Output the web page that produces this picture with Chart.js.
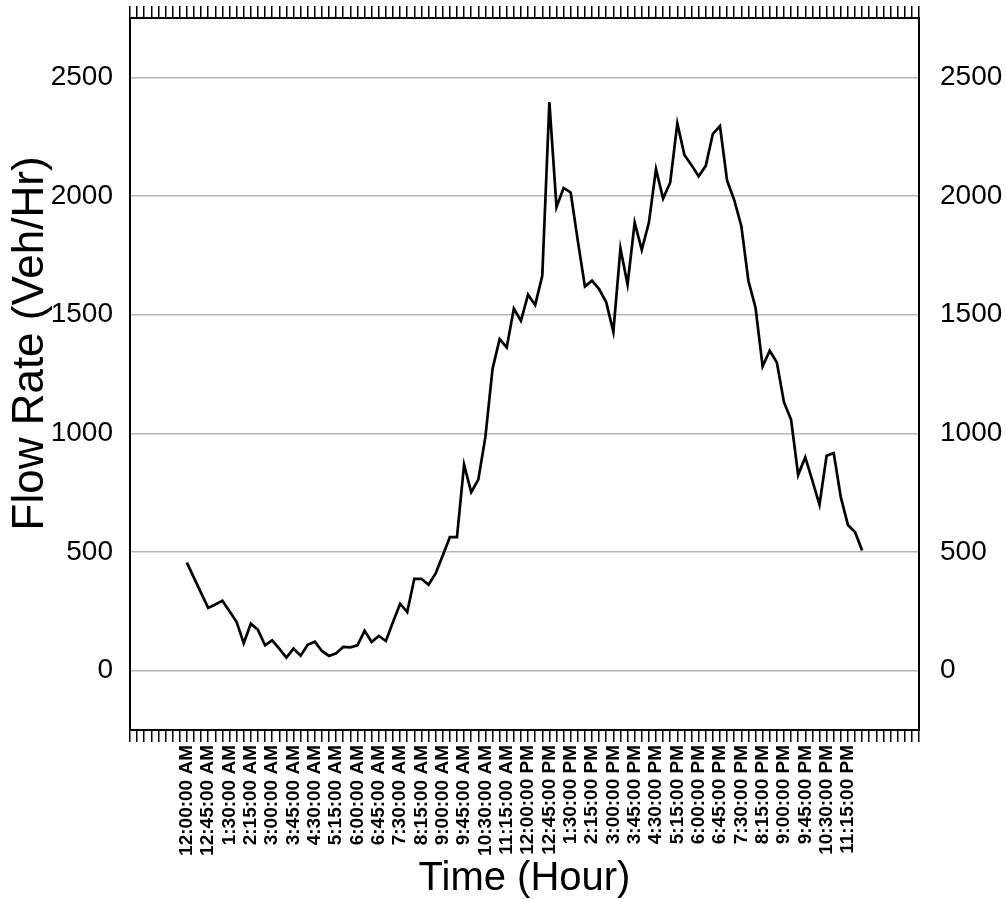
<!DOCTYPE html>
<html>
<head>
<meta charset="utf-8">
<script src="https://cdn.jsdelivr.net/npm/chart.js@4.4.1/dist/chart.umd.min.js"></script>
<style>
  html, body { margin: 0; padding: 0; background: #fff; }
  #wrap { width: 1006px; height: 899px; }
</style>
</head>
<body>
<div id="wrap"><canvas id="flowChart"></canvas></div>
<script>
// 15 minute time stamps over the day
const timeLabels = [
    '12:00:00 AM', '12:15:00 AM', '12:30:00 AM', '12:45:00 AM', '1:00:00 AM', '1:15:00 AM', '1:30:00 AM', '1:45:00 AM',
    '2:00:00 AM', '2:15:00 AM', '2:30:00 AM', '2:45:00 AM', '3:00:00 AM', '3:15:00 AM', '3:30:00 AM', '3:45:00 AM',
    '4:00:00 AM', '4:15:00 AM', '4:30:00 AM', '4:45:00 AM', '5:00:00 AM', '5:15:00 AM', '5:30:00 AM', '5:45:00 AM',
    '6:00:00 AM', '6:15:00 AM', '6:30:00 AM', '6:45:00 AM', '7:00:00 AM', '7:15:00 AM', '7:30:00 AM', '7:45:00 AM',
    '8:00:00 AM', '8:15:00 AM', '8:30:00 AM', '8:45:00 AM', '9:00:00 AM', '9:15:00 AM', '9:30:00 AM', '9:45:00 AM',
    '10:00:00 AM', '10:15:00 AM', '10:30:00 AM', '10:45:00 AM', '11:00:00 AM', '11:15:00 AM', '11:30:00 AM', '11:45:00 AM',
    '12:00:00 PM', '12:15:00 PM', '12:30:00 PM', '12:45:00 PM', '1:00:00 PM', '1:15:00 PM', '1:30:00 PM', '1:45:00 PM',
    '2:00:00 PM', '2:15:00 PM', '2:30:00 PM', '2:45:00 PM', '3:00:00 PM', '3:15:00 PM', '3:30:00 PM', '3:45:00 PM',
    '4:00:00 PM', '4:15:00 PM', '4:30:00 PM', '4:45:00 PM', '5:00:00 PM', '5:15:00 PM', '5:30:00 PM', '5:45:00 PM',
    '6:00:00 PM', '6:15:00 PM', '6:30:00 PM', '6:45:00 PM', '7:00:00 PM', '7:15:00 PM', '7:30:00 PM', '7:45:00 PM',
    '8:00:00 PM', '8:15:00 PM', '8:30:00 PM', '8:45:00 PM', '9:00:00 PM', '9:15:00 PM', '9:30:00 PM', '9:45:00 PM',
    '10:00:00 PM', '10:15:00 PM', '10:30:00 PM', '10:45:00 PM', '11:00:00 PM', '11:15:00 PM', '11:30:00 PM', '11:45:00 PM'
];

// Flow rate (Veh/Hr) per time stamp
const flowRate = [
    455, 391, 328, 264, 279, 295, 250, 205,
    116, 198, 172, 107, 128, 93, 55, 93,
    63, 109, 122, 83, 62, 73, 100, 98,
    107, 168, 121, 146, 125, 205, 282, 247,
    387, 387, 362, 410, 485, 563, 563, 868,
    752, 805, 985, 1271, 1397, 1362, 1526, 1474,
    1584, 1541, 1664, 2396, 1953, 2034, 2015, 1811,
    1619, 1643, 1608, 1552, 1428, 1779, 1627, 1888,
    1773, 1888, 2113, 1989, 2057, 2306, 2173, 2130,
    2083, 2127, 2262, 2295, 2065, 1984, 1874, 1643,
    1530, 1282, 1348, 1299, 1131, 1058, 825, 899,
    801, 699, 906, 917, 731, 614, 584, 506
];

const yTicks = [0, 500, 1000, 1500, 2000, 2500];
const labelEvery = 3;

const FONT = '"Liberation Sans", Arial, Helvetica, sans-serif';

const points = flowRate.map((v, i) => ({ x: i, y: v }));

// keep the plot box exactly where it is in the picture
function fixBox(size, key) {
    return function (scale) {
        scale[key] = size;
        scale.paddingTop = 0;
        scale.paddingBottom = 0;
        scale.paddingLeft = 0;
        scale.paddingRight = 0;
    };
}

const ctx = document.getElementById('flowChart').getContext('2d');

new Chart(ctx, {
    type: 'line',
    data: {
        datasets: [{
            data: points,
            borderColor: '#000',
            borderWidth: 2.7,
            pointRadius: 0,
            fill: false,
            tension: 0
        }]
    },
    options: {
        responsive: true,
        maintainAspectRatio: false,
        animation: false,
        layout: { padding: 0 },
        plugins: {
            legend: { display: false },
            tooltip: { enabled: false }
        },
        scales: {
            x: {
                type: 'linear',
                position: 'bottom',
                min: -8,
                max: 103,
                afterFit: fixBox(169, 'height'),
                grid: { drawOnChartArea: false, drawTicks: true, tickLength: 12, color: '#000', lineWidth: 1.5 },
                border: { display: true, color: '#000', width: 2 },
                ticks: {
                    stepSize: 1,
                    autoSkip: false,
                    minRotation: 90,
                    maxRotation: 90,
                    padding: 3,
                    color: '#000',
                    font: { family: FONT, size: 19, weight: 'bold' },
                    callback: function (value) {
                        if (value >= 0 && value < timeLabels.length && value % labelEvery === 0) {
                            return timeLabels[value];
                        }
                        return '';
                    }
                },
                title: {
                    display: true,
                    text: 'Time (Hour)',
                    color: '#000',
                    padding: 0,
                    font: { family: FONT, size: 40, lineHeight: 1 }
                }
            },
            xTop: {
                type: 'linear',
                position: 'top',
                min: -8,
                max: 103,
                afterFit: fixBox(18, 'height'),
                grid: { drawOnChartArea: false, drawTicks: true, tickLength: 12, color: '#000', lineWidth: 1.5 },
                border: { display: true, color: '#000', width: 2 },
                ticks: { stepSize: 1, autoSkip: false, callback: () => '' }
            },
            y: {
                position: 'left',
                min: -250,
                max: 2750,
                afterFit: fixBox(130, 'width'),
                afterBuildTicks: function (scale) { scale.ticks = yTicks.map(v => ({ value: v })); },
                grid: { color: '#b4b4b4', lineWidth: 1.5, drawTicks: false },
                border: { display: true, color: '#000', width: 2 },
                ticks: {
                    padding: 17,
                    color: '#000',
                    font: { family: FONT, size: 28 },
                    callback: v => String(v)
                },
                title: {
                    display: true,
                    // leading spaces lift the title a little above the centre, as in the picture
                    text: '     Flow Rate (Veh/Hr)',
                    color: '#000',
                    padding: { top: 9, bottom: 0 },
                    font: { family: FONT, size: 44, lineHeight: 1 }
                }
            },
            yRight: {
                position: 'right',
                min: -250,
                max: 2750,
                afterFit: fixBox(87, 'width'),
                afterBuildTicks: function (scale) { scale.ticks = yTicks.map(v => ({ value: v })); },
                grid: { drawOnChartArea: false, drawTicks: false },
                border: { display: true, color: '#000', width: 2 },
                ticks: {
                    padding: 21,
                    color: '#000',
                    font: { family: FONT, size: 28 },
                    callback: v => String(v)
                }
            }
        }
    }
});
</script>
</body>
</html>
